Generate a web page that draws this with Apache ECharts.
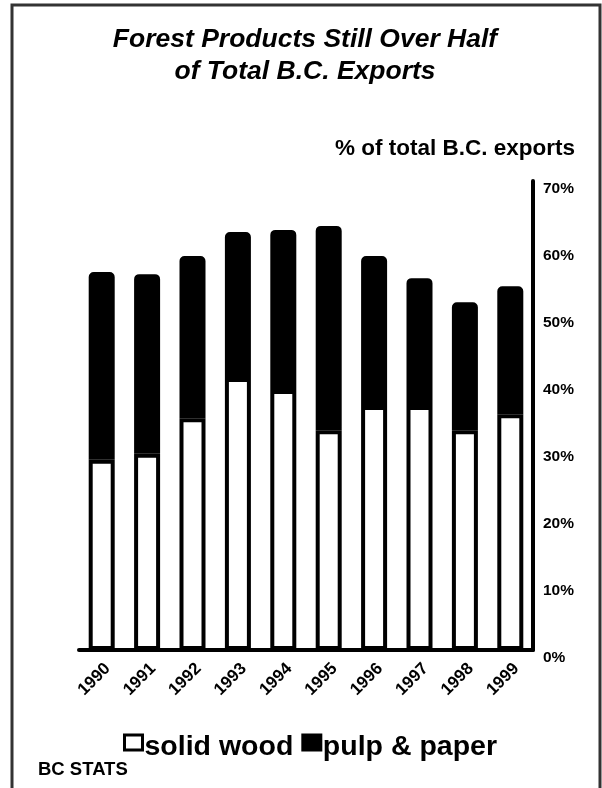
<!DOCTYPE html>
<html>
<head>
<meta charset="utf-8">
<script src="https://cdn.jsdelivr.net/npm/echarts@6/dist/echarts.min.js"></script>
<style>
html,body{margin:0;padding:0;background:#fff;}
#c{width:602px;height:788px;}
</style>
</head>
<body>
<div id="c"></div>
<script>
const years = ['1990','1991','1992','1993','1994','1995','1996','1997','1998','1999'];
const solidWood = [28.4, 29.3, 34.6, 40.6, 38.8, 32.8, 36.4, 36.4, 32.8, 35.2];
const pulpPaper = [28.0, 26.8, 24.2, 21.8, 23.9, 30.5, 22.4, 19.1, 19.1, 19.1];
const yTicks = [0, 10, 20, 30, 40, 50, 60, 70];
const titleLines = ['Forest Products Still Over Half', 'of Total B.C. Exports'];

const FONT = 'Liberation Sans, Arial, sans-serif';
const chart = echarts.init(document.getElementById('c'));
chart.setOption({
  animation: false,
  backgroundColor: '#fff',
  legend: {
    data: ['solid wood', 'pulp & paper'],
    bottom: 21,
    left: 118,
    itemWidth: 18,
    itemHeight: 15,
    itemGap: 8,
    itemStyle: {borderWidth: 3},
    icon: 'rect',
    formatter: '{a|{name}}',
    textStyle: {
      fontFamily: FONT, fontSize: 28.5, fontWeight: 'bold', color: '#000',
      rich: {a: {fontFamily: FONT, fontSize: 28.5, fontWeight: 'bold', color: '#000', padding: [10, 0, 0, -3]}}
    }
  },
  grid: {left: 79, right: 69, top: 181, bottom: 138},
  xAxis: {
    type: 'category',
    data: years,
    axisLine: {show: true, lineStyle: {color: '#000', width: 4}},
    axisTick: {show: false},
    axisLabel: {rotate: 45, margin: 10, verticalAlign: 'top', fontFamily: FONT, fontSize: 17, fontWeight: 'bold', color: '#000'}
  },
  yAxis: {
    type: 'value',
    position: 'right',
    min: yTicks[0],
    max: yTicks[yTicks.length - 1],
    interval: 10,
    axisLine: {show: true, lineStyle: {color: '#000', width: 4}},
    axisTick: {show: false},
    splitLine: {show: false},
    axisLabel: {formatter: '{value}%', margin: 10, verticalAlign: 'top', fontFamily: FONT, fontSize: 15.5, fontWeight: 'bold', color: '#000'}
  },
  series: [
    {
      name: 'solid wood', type: 'bar', stack: 'total', data: solidWood, barWidth: 26,
      itemStyle: {color: '#fff', borderColor: '#000', borderWidth: 4}
    },
    {
      name: 'pulp & paper', type: 'bar', stack: 'total', data: pulpPaper, barWidth: 26,
      itemStyle: {color: '#000', borderColor: '#000', borderWidth: 4, borderRadius: [3, 3, 0, 0]}
    }
  ],
  graphic: [
    {type: 'rect', shape: {x: 12, y: 5, width: 588, height: 800}, style: {fill: 'none', stroke: '#333', lineWidth: 3}, z: 100},
    {type: 'text', x: 305, y: 40, style: {text: titleLines[0], textAlign: 'center', textVerticalAlign: 'middle', font: 'italic bold 26.5px ' + FONT, fill: '#000'}},
    {type: 'text', x: 305, y: 72, style: {text: titleLines[1], textAlign: 'center', textVerticalAlign: 'middle', font: 'italic bold 26.5px ' + FONT, fill: '#000'}},
    {type: 'text', right: 27, top: 137, style: {text: '% of total B.C. exports', font: 'bold 22.5px ' + FONT, fill: '#000'}},
    {type: 'text', left: 38, top: 760, style: {text: 'BC STATS', font: 'bold 18.5px ' + FONT, fill: '#000'}}
  ]
});
</script>
</body>
</html>
